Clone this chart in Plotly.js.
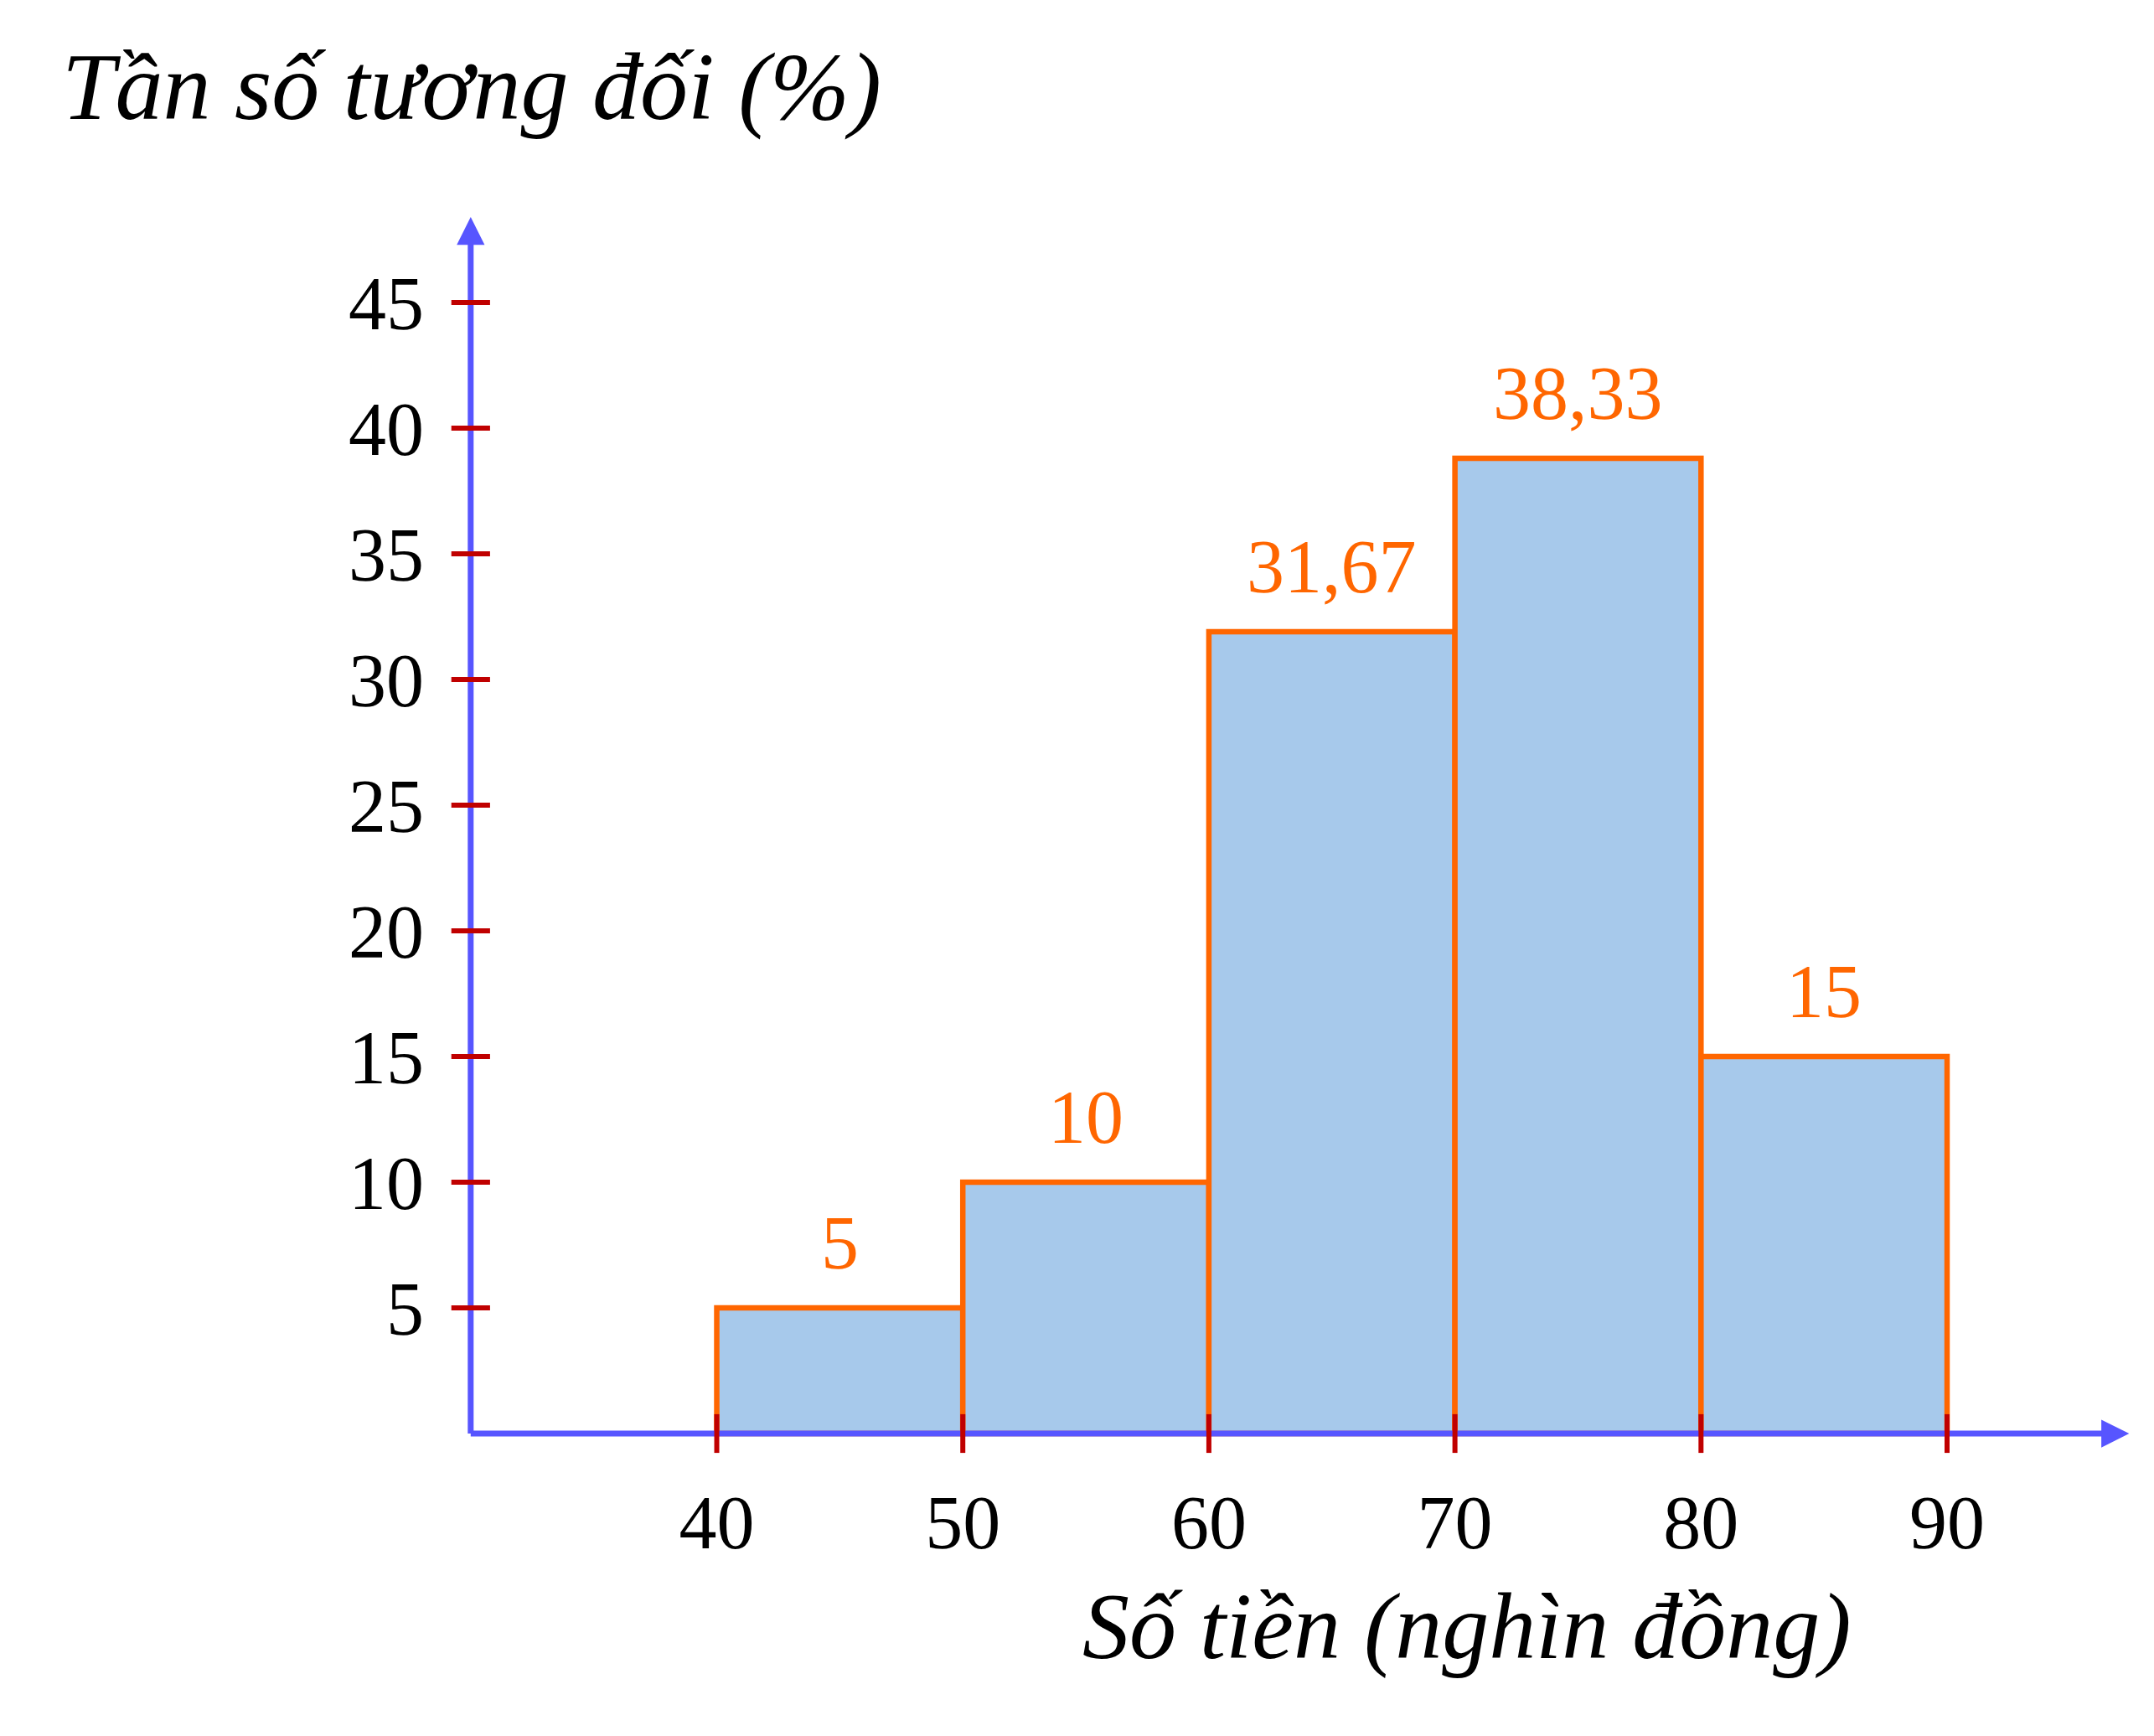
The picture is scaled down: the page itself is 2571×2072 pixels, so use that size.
<!DOCTYPE html>
<html>
<head>
<meta charset="utf-8">
<script src="https://cdn.plot.ly/plotly-3.0.1.min.js"></script>
<style>html,body{margin:0;padding:0;background:#fff;}#chart{width:2571px;height:2072px;}</style>
</head>
<body>
<div id="chart"></div>
<script>
// Class intervals (thousand dong)
const binStarts = [40, 50, 60, 70, 80];
const binWidth = 10;
// Printed values of relative frequency (%)
const freqLabels = ["5", "10", "31,67", "38,33", "15"];
// Bar heights as drawn in the figure (%)
const barHeights = [5, 10, 31.9, 38.8, 15];
// Tick labels
const xTicks = [40, 50, 60, 70, 80, 90];
const yTicks = [5, 10, 15, 20, 25, 30, 35, 40, 45];

const xMin = 30, xMax = 97.4, yMin = 0, yMax = 48.4;

const blue = '#5755FF', orange = '#FF6600', red = '#C00000', fill = '#A7C9EB';
const serif = '"Liberation Serif", "DejaVu Serif", serif';

const W = 2571, H = 2072;
const mL = 553, mR = 12, mT = 241, mB = 352;
const plotW = W - mL - mR, plotH = H - mT - mB;

const centers = binStarts.map(s => s + binWidth / 2);

const traces = [
  {
    type: 'bar', x: centers, y: barHeights, width: binWidth,
    marker: {color: fill, line: {color: orange, width: 6.5}},
    hoverinfo: 'skip', showlegend: false
  },
  // axis lines
  {type: 'scatter', mode: 'lines', x: [xMin, xMax - 0.3], y: [yMin, yMin],
   line: {color: blue, width: 7}, showlegend: false, hoverinfo: 'skip'},
  {type: 'scatter', mode: 'lines', x: [xMin, xMin], y: [yMin, yMax - 0.3],
   line: {color: blue, width: 7}, showlegend: false, hoverinfo: 'skip'},
  // tick marks
  {type: 'scatter', mode: 'markers', x: xTicks, y: xTicks.map(() => yMin),
   marker: {symbol: 'line-ns', size: 33, line: {color: red, width: 6}},
   cliponaxis: false, showlegend: false, hoverinfo: 'skip'},
  {type: 'scatter', mode: 'markers', x: yTicks.map(() => xMin), y: yTicks,
   marker: {symbol: 'line-ew', size: 33, line: {color: red, width: 6}},
   cliponaxis: false, showlegend: false, hoverinfo: 'skip'}
];

const annotations = centers.map((c, i) => ({
  x: c, y: barHeights[i], xref: 'x', yref: 'y', text: freqLabels[i],
  showarrow: false, yanchor: 'bottom', yshift: 26,
  font: {family: serif, size: 90, color: orange}
}));

// arrowheads
annotations.push({
  x: xMax, y: yMin, ax: xMax - 1, ay: yMin, xref: 'x', yref: 'y', axref: 'x', ayref: 'y',
  showarrow: true, arrowhead: 2, arrowsize: 0.95, arrowwidth: 7, arrowcolor: blue, text: ''
});
annotations.push({
  x: xMin, y: yMax, ax: xMin, ay: yMax - 1, xref: 'x', yref: 'y', axref: 'x', ayref: 'y',
  showarrow: true, arrowhead: 2, arrowsize: 0.95, arrowwidth: 7, arrowcolor: blue, text: ''
});

// x-axis title
annotations.push({
  xref: 'paper', yref: 'paper', x: (1290 - mL) / plotW, y: -(2005 - (H - mB)) / plotH,
  xanchor: 'left', yanchor: 'bottom', showarrow: false,
  text: '<i>Số tiền (nghìn đồng)</i>',
  font: {family: serif, size: 112, color: '#000'}
});

const layout = {
  width: W, height: H,
  margin: {l: mL, r: mR, t: mT, b: mB},
  paper_bgcolor: '#fff', plot_bgcolor: '#fff',
  title: {
    text: '<i>Tần số tương đối (%)</i>',
    x: 74 / W, xanchor: 'left', xref: 'container',
    y: 1 - 62 / H, yanchor: 'top', yref: 'container',
    font: {family: serif, size: 114, color: '#000'}
  },
  xaxis: {
    range: [xMin - 0.3, xMin - 0.3 + plotW / 29.37], tickvals: xTicks, ticktext: xTicks.map(String),
    ticks: 'outside', ticklen: 19, tickcolor: 'rgba(0,0,0,0)',
    showline: false, showgrid: false, zeroline: false,
    tickfont: {family: serif, size: 90, color: '#000'}
  },
  yaxis: {
    range: [yMin - 0.3, yMin - 0.3 + plotH / 30], tickvals: yTicks, ticktext: yTicks.map(String),
    ticks: 'outside', ticklen: 28, tickcolor: 'rgba(0,0,0,0)',
    showline: false, showgrid: false, zeroline: false,
    tickfont: {family: serif, size: 90, color: '#000'}
  },
  annotations: annotations,
  showlegend: false,
  bargap: 0
};

Plotly.newPlot('chart', traces, layout, {staticPlot: true});
</script>
</body>
</html>
